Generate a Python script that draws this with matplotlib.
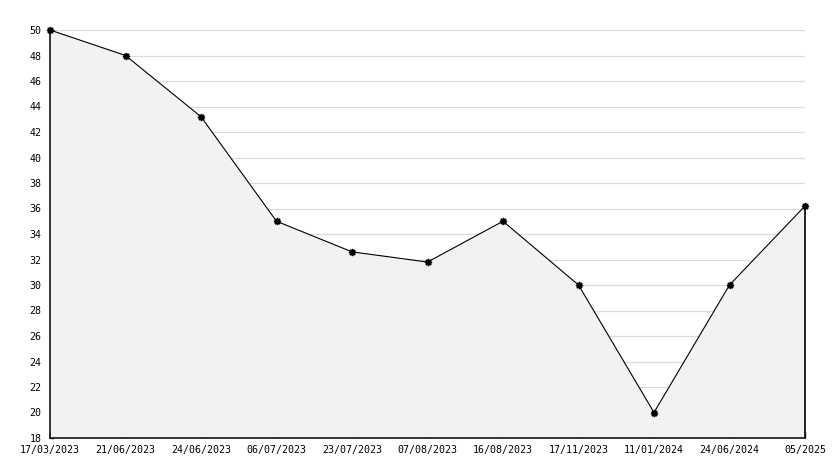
import numpy as np
import matplotlib
matplotlib.use('Agg')
import matplotlib.pyplot as plt
from matplotlib.ticker import MultipleLocator

# data
dates = ['17/03/2023', '21/06/2023', '24/06/2023', '06/07/2023', '23/07/2023',
         '07/08/2023', '16/08/2023', '17/11/2023', '11/01/2024', '24/06/2024',
         '05/2025']
values = [50, 48, 43.2, 35, 32.6, 31.8, 35, 30, 20, 30, 36.2]
y_min, y_max = 18, 50

x = np.arange(len(dates))

fig = plt.figure(figsize=(8.34, 4.68), dpi=100)
ax = fig.add_axes([50/834, 30/468, 755/834, 408/468])

ax.fill_between(x, values, y_min, color='#f2f2f2', zorder=2, linewidth=0)
ax.plot(x, values, color='black', linewidth=0.8, zorder=3, clip_on=False)
ax.plot(x, values, linestyle='none', marker=(8, 1, 0), markersize=5,
        color='black', zorder=6, clip_on=False)
ax.vlines(x[-1], y_min, values[-1], color='black', linewidth=1.2, zorder=3,
          clip_on=False)

ax.set_xlim(x[0], x[-1])
ax.set_ylim(y_min, y_max)
ax.yaxis.set_major_locator(MultipleLocator(2))
ax.yaxis.set_minor_locator(MultipleLocator(1))
ax.set_xticks(x)
ax.set_xticklabels(dates)

ax.grid(axis='y', which='major', color='#dcdcdc', linewidth=0.9, zorder=1)
ax.set_axisbelow(True)

for s in ['top', 'right']:
    ax.spines[s].set_visible(False)
for s in ['left', 'bottom']:
    ax.spines[s].set_linewidth(1.1)
    ax.spines[s].set_zorder(5)

ax.tick_params(axis='y', which='major', direction='in', length=3, width=1,
               pad=6, labelsize=7.2)
ax.tick_params(axis='y', which='minor', direction='in', length=3, width=1)
ax.tick_params(axis='x', which='major', direction='in', length=4.5, width=1,
               pad=5, labelsize=7.2)
for lab in ax.get_xticklabels() + ax.get_yticklabels():
    lab.set_family('DejaVu Sans Mono')

fig.savefig('out.png', dpi=100)
